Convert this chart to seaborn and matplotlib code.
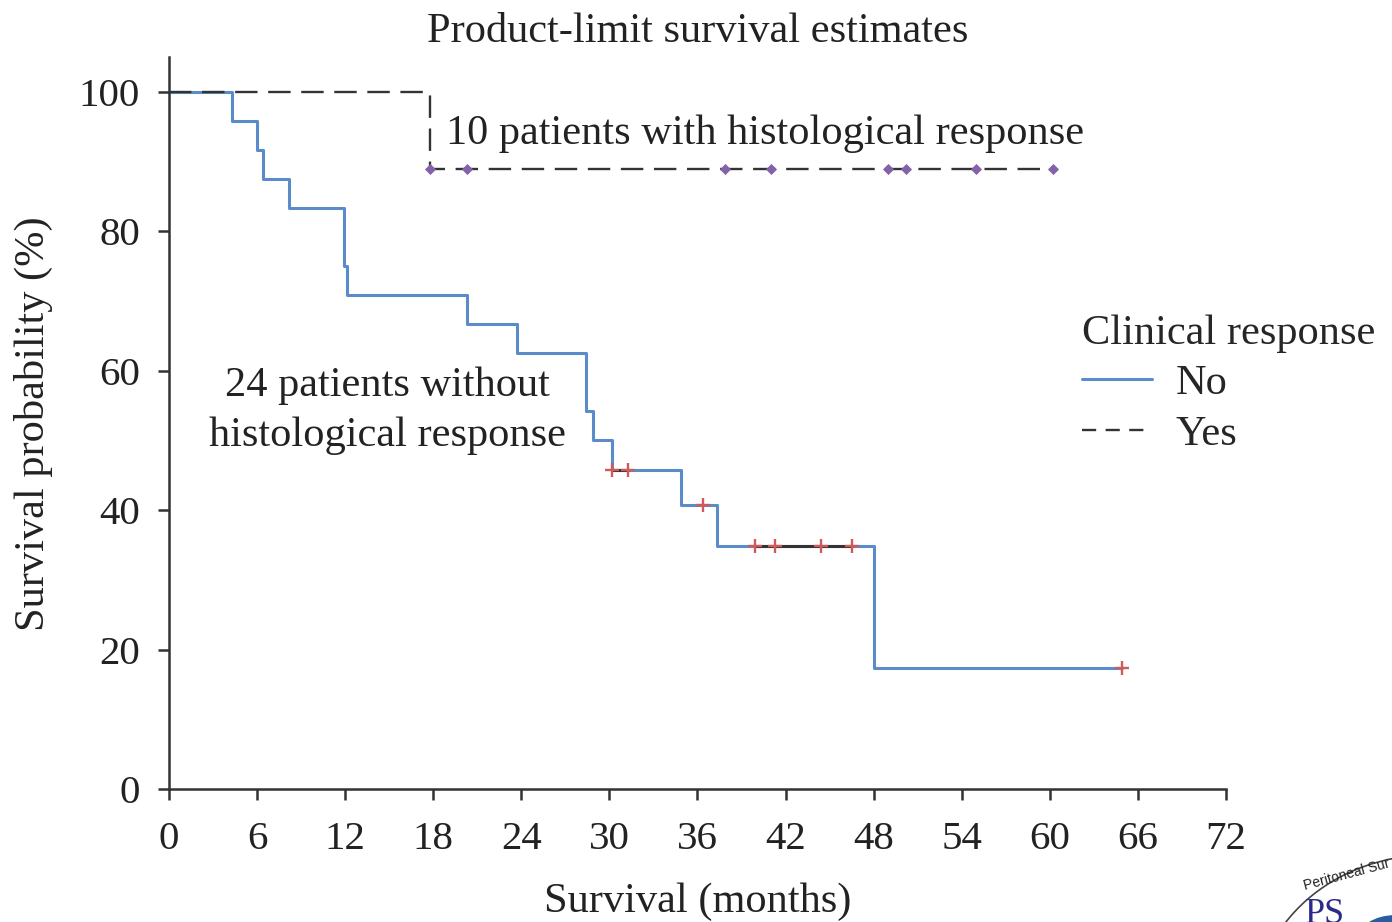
import numpy as np
import pandas as pd
import matplotlib
matplotlib.use("Agg")
import matplotlib.pyplot as plt
from matplotlib.lines import Line2D
from matplotlib.patches import Ellipse, Circle
import seaborn as sns

sns.set_theme(style="ticks")
plt.rcParams["font.family"] = ["Liberation Serif", "DejaVu Serif"]

# step curves (months, survival %)
no_times = [0, 4.3, 6.0, 6.4, 8.2, 11.95, 12.1, 20.3, 23.7, 28.4, 28.9, 30.2, 34.9, 37.3, 48.0, 64.9]
no_surv = [100, 95.8, 91.7, 87.5, 83.3, 75.0, 70.8, 66.7, 62.5, 54.2, 50.0, 45.8, 40.7, 34.9, 17.4, 17.4]
no_cens_t = [30.2, 31.3, 36.4, 39.9, 41.3, 44.4, 46.5, 64.9]
no_cens_s = [45.8, 45.8, 40.7, 34.9, 34.9, 34.9, 34.9, 17.4]

yes_times = [0, 17.8, 60.2]
yes_surv = [100, 88.9, 88.9]
yes_cens_t = [17.8, 20.3, 37.9, 41.0, 49.0, 50.2, 55.0, 60.2]
yes_cens_s = [88.9, 88.9, 88.9, 88.9, 88.9, 88.9, 88.9, 88.9]

x_ticks = list(range(0, 73, 6))
y_ticks = [0, 20, 40, 60, 80, 100]

blue = "#5b8bc9"
dark = "#333333"
red = "#d05a5a"
purple = "#8462aa"
fs = 30.5
tick_fs = 29.5

fig = plt.figure(figsize=(13.92, 9.22), dpi=100)
ax = fig.add_axes([0.1214, 0.1443, 0.8807 - 0.1214, 0.9382 - 0.1443])

no_df = pd.DataFrame({"t": no_times, "s": no_surv})
yes_df = pd.DataFrame({"t": yes_times, "s": yes_surv})

sns.lineplot(data=no_df, x="t", y="s", ax=ax, drawstyle="steps-post", sort=False,
             estimator=None, color=blue, linewidth=2.2, zorder=2)
sns.lineplot(data=yes_df, x="t", y="s", ax=ax, drawstyle="steps-post", sort=False,
             estimator=None, color=dark, linewidth=1.7, zorder=3)
ax.lines[-1].set_dashes((9.5, 4.5))

# dark bits between neighbouring censor marks on the same level
for i in range(len(no_cens_t) - 1):
    if no_cens_s[i] == no_cens_s[i + 1]:
        ax.plot([no_cens_t[i], no_cens_t[i + 1]], [no_cens_s[i], no_cens_s[i + 1]],
                color=dark, linewidth=2.2, zorder=3)

sns.scatterplot(x=no_cens_t, y=no_cens_s, ax=ax, marker="+", s=115, color=red,
                linewidth=1.7, zorder=4)
sns.scatterplot(x=yes_cens_t, y=yes_cens_s, ax=ax, marker="D", s=32, color=purple,
                linewidth=0, zorder=4)

ax.set_xlim(0, 72)
ax.set_ylim(0, 105)
ax.set_xticks(x_ticks)
ax.set_yticks(y_ticks)
ax.set_xlabel("")
ax.set_ylabel("")
sns.despine(ax=ax)
for side in ["left", "bottom"]:
    ax.spines[side].set_linewidth(1.8)
    ax.spines[side].set_color(dark)
ax.tick_params(axis="both", direction="out", length=8, width=1.8, color=dark,
               labelsize=tick_fs, labelcolor="#222222")
ax.tick_params(axis="y", pad=13)
ax.tick_params(axis="x", pad=15)

ax.text(18.87, 94.0, "10 patients with histological response", fontsize=fs,
        ha="left", va="center", color="#222222")
ax.text(14.9, 54.3, "24 patients without\nhistological response", fontsize=fs,
        ha="center", va="center", color="#222222", linespacing=1.4)

fig.text(0.5014, 0.966, "Product-limit survival estimates", fontsize=fs,
         ha="center", va="center", color="#222222")
fig.text(0.5014, 0.022, "Survival (months)", fontsize=fs, ha="center", va="center",
         color="#222222")
fig.text(0.0237, 0.540, "Survival probability (%)", fontsize=fs, ha="center",
         va="center", rotation=90, color="#222222")

handles = [Line2D([], [], color=blue, linewidth=2.2),
           Line2D([], [], color=dark, linewidth=1.7, dashes=(6, 4))]
leg = fig.legend(handles, ["No", "Yes"], title="Clinical response", loc="upper left",
                 bbox_to_anchor=(1061 / 1392, 1 - 293 / 922), frameon=False,
                 fontsize=fs, title_fontsize=fs, handlelength=1.65, handletextpad=0.55,
                 labelspacing=0.28, borderpad=0, alignment="left")

# cut-off journal logo in the corner
fig.patches.append(Ellipse((1430 / 1392, 1 - 1010 / 922), 350 / 1392, 310 / 922,
                           transform=fig.transFigure, fill=False, edgecolor="#444444",
                           linewidth=1.2))
fig.patches.append(Circle((1395 / 1392, 1 - 940 / 922), 0.027, transform=fig.transFigure,
                          facecolor="#2a5d9f", edgecolor="none"))
fig.text(1302 / 1392, 1 - 890 / 922, "Peritoneal Sur", fontsize=10, rotation=15,
         ha="left", va="baseline", color="#222222", family="Liberation Sans")
fig.text(1305 / 1392, 1 - 898 / 922, "PS", fontsize=26, ha="left", va="top",
         color="#2a2a8a")

fig.savefig("out.png", dpi=100)
